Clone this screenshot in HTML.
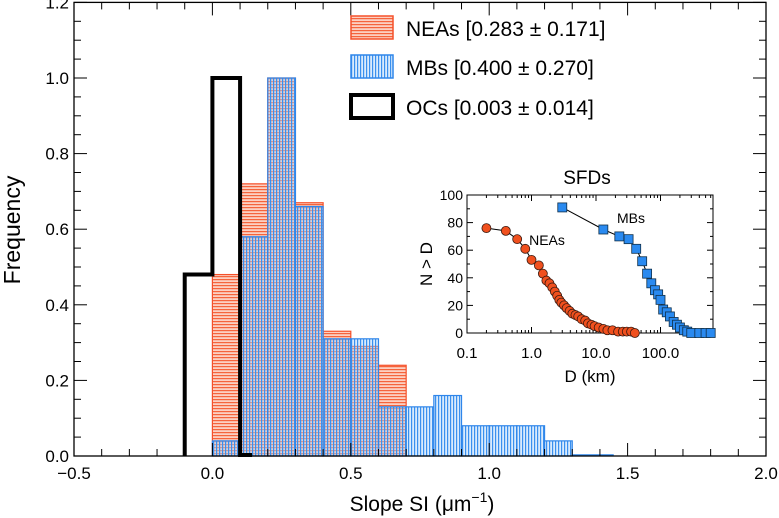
<!DOCTYPE html>
<html><head><meta charset="utf-8"><style>
body{margin:0;background:#fff}
svg{display:block;font-family:"Liberation Sans",Arial,sans-serif}
</style></head><body>
<svg id="c" width="779" height="518" viewBox="0 0 779 518">
<defs>
<pattern id="hatchN" width="4" height="3" patternUnits="userSpaceOnUse"><rect width="4" height="3" fill="#fcd0c2"/><rect y="0" width="4" height="1.2" fill="#f5643c"/></pattern>
<pattern id="hatchM" width="3" height="4" patternUnits="userSpaceOnUse"><rect width="3" height="4" fill="rgba(170,210,250,0.45)"/><rect x="0" width="1.2" height="4" fill="#3a90ee"/></pattern>
</defs>
<g id="main"></g>
<g id="inset"></g>
</svg>
<script>
const binEdgesStart = 0.0;
const binWidth = 0.1;
const neaValues = [0.48, 0.72, 1.0, 0.67, 0.33, 0.29, 0.24];
const mbValues = [0.04, 0.58, 1.0, 0.66, 0.31, 0.31, 0.13, 0.13, 0.16, 0.08, 0.08, 0.08, 0.04];
const ocStart = -0.1;
const ocValues = [0.48, 1.0];
const xTicks = [-0.5, 0.0, 0.5, 1.0, 1.5, 2.0];
const xTickLabels = ["\u22120.5", "0.0", "0.5", "1.0", "1.5", "2.0"];
const yTicks = [0.0, 0.2, 0.4, 0.6, 0.8, 1.0, 1.2];
const yTickLabels = ["0.0", "0.2", "0.4", "0.6", "0.8", "1.0", "1.2"];
const legendLabels = ["NEAs [0.283 \u00b1 0.171]", "MBs [0.400 \u00b1 0.270]", "OCs [0.003 \u00b1 0.014]"];

const neaD = [0.2,0.4,0.6,0.8,1.0,1.3,1.5,1.7,1.9,2.1,2.3,2.5,2.7,2.9,3.2,3.5,3.9,4.3,4.8,5.3,6,6.8,7.5,8.5,9.5,11,13,15,18,22,26,30,35,40];
const neaN = [76,74,68,61,53,49,43,38,36,33,30,27,24,22,20,18,16,14,13,12,10,9,7,6,5,4,3,2,2,1,1,1,1,0];
const mbD = [3,13,23,32,42,52,62,72,82,92,100,110,125,140,160,180,200,230,260,300,400,500,600];
const mbN = [91,75,70,68,61,52,43,36,31,28,24,17,15,12,8,6,4,2,1,0,0,0,0];
const insetXTicks = [0.1, 1, 10, 100];
const insetXLabels = ["0.1", "1.0", "10.0", "100.0"];
const insetYTicks = [0, 20, 40, 60, 80, 100];

const NS = "http://www.w3.org/2000/svg";
function mk(tag, attrs, parent, txt){const e=document.createElementNS(NS,tag);for(const k in attrs)e.setAttribute(k,attrs[k]);if(txt!==undefined)e.textContent=txt;parent.appendChild(e);return e;}
const main = document.getElementById('main');
const L=74,R=766,T=2.4,B=456;
const X = v => L + (v+0.5)/2.5*(R-L);
const Y = v => B - v*(B-78);

neaValues.forEach((v,i)=>{
  const x0=X(binEdgesStart+i*binWidth), x1=X(binEdgesStart+(i+1)*binWidth);
  const r=mk('rect',{x:x0,y:Y(v),width:x1-x0,height:B-Y(v),fill:'url(#hatchN)',stroke:'#f5502a','stroke-width':1.2},main);
  
  
});
mbValues.forEach((v,i)=>{
  const x0=X(binEdgesStart+i*binWidth), x1=X(binEdgesStart+(i+1)*binWidth);
  const r=mk('rect',{x:x0,y:Y(v),width:x1-x0,height:B-Y(v),fill:'url(#hatchM)',stroke:'#2f86ea','stroke-width':1.2},main);
  
  
});
mk('line',{x1:X(1.3),y1:B-1,x2:X(1.45),y2:B-1,stroke:'#2f86ea','stroke-width':1.5},main);
let d='M'+X(ocStart)+','+B;
ocValues.forEach((v,i)=>{const x0=X(ocStart+i*binWidth),x1=X(ocStart+(i+1)*binWidth);d+=' L'+x0+','+Y(v)+' L'+x1+','+Y(v);});
const ocEnd=X(ocStart+ocValues.length*binWidth);
d+=' L'+ocEnd+','+(B-1)+' L'+(ocEnd+12)+','+(B-1);
const oc=mk('path',{d:d,fill:'none',stroke:'#000','stroke-width':4,'stroke-linejoin':'miter'},main);



mk('rect',{x:L,y:T,width:R-L,height:B-T,fill:'none',stroke:'#000','stroke-width':1.3},main);
for(let v=-0.5;v<=2.0001;v+=0.1){
  const major=Math.abs(v*2-Math.round(v*2))<1e-6; const len=major?13:7;
  mk('line',{x1:X(v),y1:B,x2:X(v),y2:B-len,stroke:'#000','stroke-width':1},main);
  mk('line',{x1:X(v),y1:T,x2:X(v),y2:T+len,stroke:'#000','stroke-width':1},main);
}
xTicks.forEach((v,i)=>{const t=mk('text',{x:X(v),y:479,'font-size':17,'text-anchor':'middle'},main,xTickLabels[i]);
  
  });
for(let v=0;v<=1.2001;v+=0.05){
  const major=Math.abs(v*5-Math.round(v*5))<1e-6; const len=major?13:7;
  mk('line',{x1:L,y1:Y(v),x2:L+len,y2:Y(v),stroke:'#000','stroke-width':1},main);
  mk('line',{x1:R,y1:Y(v),x2:R-len,y2:Y(v),stroke:'#000','stroke-width':1},main);
}
yTicks.forEach((v,i)=>{const t=mk('text',{x:69,y:Y(v)+6,'font-size':17,'text-anchor':'end'},main,yTickLabels[i]);
  
  });
const xt=mk('text',{x:422,y:511,'font-size':21,'text-anchor':'middle'},main);
xt.innerHTML='Slope SI (\u03bcm<tspan dy="-9" font-size="14">\u22121</tspan><tspan dy="9">)</tspan>';


const yt=mk('text',{x:20,y:230,'font-size':23,'text-anchor':'middle',transform:'rotate(-90 20 230)'},main,'Frequency');



const lg=[{y:16,f:'url(#hatchN)',s:'#f5502a',w:1.5},{y:55,f:'url(#hatchM)',s:'#2f86ea',w:1.5},{y:95,f:'#fff',s:'#000',w:4}];
lg.forEach((o,i)=>{
  const r=mk('rect',{x:351,y:o.y,width:42,height:23,fill:o.f,stroke:o.s,'stroke-width':o.w},main);
  
  
  const t=mk('text',{x:406,y:o.y+20,'font-size':21},main,legendLabels[i]);
  
  
});

const ins=document.getElementById('inset');
const iL=467,iR=713,iT=195,iB=333;
const IX=v=>iL+(Math.log10(v)+1)*64.5;
const IY=v=>iB-v/100*(iB-iT);
mk('rect',{x:iL,y:iT,width:iR-iL,height:iB-iT,fill:'#fff',stroke:'#000','stroke-width':1},ins);
insetYTicks.forEach(v=>{
  mk('line',{x1:iL,y1:IY(v),x2:iL+6,y2:IY(v),stroke:'#000'},ins);
  mk('line',{x1:iR,y1:IY(v),x2:iR-6,y2:IY(v),stroke:'#000'},ins);
  const t=mk('text',{x:iL-4,y:IY(v)+5,'font-size':14,'text-anchor':'end'},ins,String(v));
  
  
});
for(let v=10;v<100;v+=20){mk('line',{x1:iL,y1:IY(v),x2:iL+3,y2:IY(v),stroke:'#000'},ins);mk('line',{x1:iR,y1:IY(v),x2:iR-3,y2:IY(v),stroke:'#000'},ins);}
for(let e=-1;e<3;e++){for(let k=1;k<10;k++){const v=k*Math.pow(10,e);const x=IX(v);if(x>iR)continue;const len=k==1?6:3;
  mk('line',{x1:x,y1:iB,x2:x,y2:iB-len,stroke:'#000'},ins);mk('line',{x1:x,y1:iT,x2:x,y2:iT+len,stroke:'#000'},ins);}}
insetXTicks.forEach((v,i)=>{const t=mk('text',{x:IX(v),y:358,'font-size':15,'text-anchor':'middle'},ins,insetXLabels[i]);
  
  });
const ixt=mk('text',{x:590,y:382,'font-size':17,'text-anchor':'middle'},ins,'D (km)');


const iyt=mk('text',{x:432,y:264,'font-size':17,'text-anchor':'middle',transform:'rotate(-90 432 264)'},ins,'N > D');


const ititle=mk('text',{x:587,y:184,'font-size':19,'text-anchor':'middle'},ins,'SFDs');


mk('polyline',{points:neaD.map((v,i)=>IX(v)+','+IY(neaN[i])).join(' '),fill:'none',stroke:'#000','stroke-width':1},ins);
mk('polyline',{points:mbD.map((v,i)=>IX(v)+','+IY(mbN[i])).join(' '),fill:'none',stroke:'#000','stroke-width':1},ins);
neaD.forEach((v,i)=>{const c=mk('circle',{cx:IX(v),cy:IY(neaN[i]),r:4.5,fill:'#f0501e',stroke:'#3a1a10','stroke-width':0.8},ins);
  
  });
mbD.forEach((v,i)=>{const c=mk('rect',{x:IX(v)-4.5,y:IY(mbN[i])-4.5,width:9,height:9,fill:'#2a8af0',stroke:'#10304a','stroke-width':0.8},ins);
  
  });
const l1=mk('text',{x:547,y:245,'font-size':14,'text-anchor':'middle'},ins,'NEAs');


const l2=mk('text',{x:631,y:223,'font-size':14,'text-anchor':'middle'},ins,'MBs');


</script>
</body></html>
